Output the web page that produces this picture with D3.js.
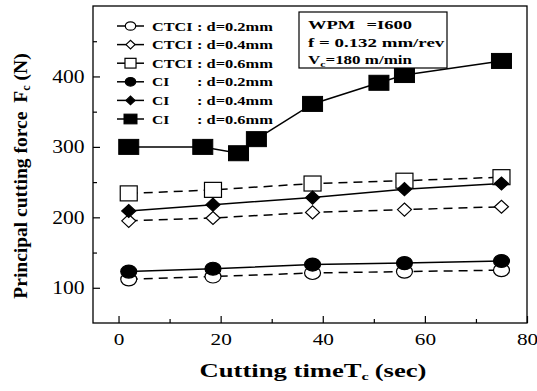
<!DOCTYPE html>
<html>
<head>
<meta charset="utf-8">
<script src="https://cdn.jsdelivr.net/npm/d3@7"></script>
<style>
  body { margin: 0; background: #fff; }
  text { font-family: "Liberation Serif", "Times New Roman", serif; fill: #000; }
</style>
</head>
<body>
<div class="container"></div>
<script>
// chart values
const timeCI06 = [2, 16.5, 23.5, 27, 38, 51, 56, 75];
const forceCI06 = [300, 300, 291, 311, 361, 391, 402, 422];
const timeShort = [2, 18.5, 38, 56, 75];
const forceCTCI02 = [112, 116, 121, 123, 125];
const forceCTCI04 = [195, 199, 207, 211, 215];
const forceCTCI06 = [234, 239, 248, 252, 257];
const forceCI02 = [123, 127, 133, 135, 138];
const forceCI04 = [209, 218, 228, 240, 248];
const legendNames = ["CTCI", "CTCI", "CTCI", "CI", "CI", "CI"];
const legendDepths = [": d=0.2mm", ": d=0.4mm", ": d=0.6mm", ": d=0.2mm", ": d=0.4mm", ": d=0.6mm"];
const xTicks = [0, 20, 40, 60, 80];
const xMinor = [10, 30, 50, 70];
const yTicks = [100, 200, 300, 400];
const yMinor = [150, 250, 350, 450];

const width = 537;
const height = 391;
const margin = { top: 6, bottom: 68, left: 93, right: 10 };
const serif = '"Liberation Serif", "Times New Roman", serif';

const svg = d3.select(".container")
  .append("svg")
  .attr("width", width)
  .attr("height", height);

const xScale = d3.scaleLinear()
  .domain([-5, 80])
  .range([margin.left, width - margin.right]);

const yScale = d3.scaleLinear()
  .domain([50, 500])
  .range([height - margin.bottom, margin.top]);

// series: which marker, filled or not, dashed or not
const series = [
  { x: timeShort, y: forceCTCI02, shape: "circle", fill: "#fff", dash: true },
  { x: timeShort, y: forceCTCI04, shape: "diamond", fill: "#fff", dash: true },
  { x: timeShort, y: forceCTCI06, shape: "square", fill: "#fff", dash: true },
  { x: timeShort, y: forceCI02, shape: "circle", fill: "#000", dash: false },
  { x: timeShort, y: forceCI04, shape: "diamond", fill: "#000", dash: false },
  { x: timeCI06, y: forceCI06, shape: "bigsquare", fill: "#000", dash: false }
];

// draw a marker centred on cx, cy; k scales it down for the legend
function marker(g, shape, cx, cy, fill, k) {
  if (shape === "circle") {
    g.append("ellipse")
      .attr("cx", cx).attr("cy", cy)
      .attr("rx", 8 * k).attr("ry", 6.5 * k)
      .attr("fill", fill).attr("stroke", "#000").attr("stroke-width", 1.2);
  } else if (shape === "diamond") {
    const w = 7 * k, h = 6.5 * k;
    g.append("path")
      .attr("d", `M${cx - w},${cy} L${cx},${cy - h} L${cx + w},${cy} L${cx},${cy + h} Z`)
      .attr("fill", fill).attr("stroke", "#000").attr("stroke-width", 1.2);
  } else if (shape === "square") {
    const w = 8.5 * k, h = 7.5 * k;
    g.append("rect")
      .attr("x", cx - w).attr("y", cy - h)
      .attr("width", 2 * w).attr("height", 2 * h)
      .attr("fill", fill).attr("stroke", "#000").attr("stroke-width", 1.2);
  } else {
    const w = 10 * k, h = 7.5 * k;
    g.append("rect")
      .attr("x", cx - w).attr("y", cy - h)
      .attr("width", 2 * w).attr("height", 2 * h)
      .attr("fill", fill).attr("stroke", "#000").attr("stroke-width", 1);
  }
}

// stretch a text sideways so it is w wide (the picture is wider than tall)
function stretchTo(g, w) {
  const t = g.select("text");
  const bw = t.node().getBBox().width;
  t.attr("transform", `scale(${w / bw},1)`);
}

// frame
svg.append("rect")
  .attr("x", margin.left)
  .attr("y", margin.top)
  .attr("width", width - margin.left - margin.right)
  .attr("height", height - margin.top - margin.bottom)
  .attr("fill", "none")
  .attr("stroke", "#000")
  .attr("stroke-width", 1.3);

// axes with inward ticks
function xAxis(g) {
  g.call(d3.axisBottom(xScale).tickValues(xTicks).tickSize(-7).tickPadding(10))
    .attr("font-family", serif)
    .call(g => g.select(".domain").remove());
  g.selectAll("text")
    .attr("font-size", 17)
    .attr("transform", "scale(1.25,1)");
}

function yAxis(g) {
  g.call(d3.axisLeft(yScale).tickValues(yTicks).tickSize(-7).tickPadding(7))
    .attr("font-family", serif)
    .call(g => g.select(".domain").remove());
  g.selectAll("text")
    .attr("font-size", 18)
    .attr("transform", "scale(1.2,1)");
}

svg.append("g")
  .attr("transform", `translate(0, ${height - margin.bottom})`)
  .call(xAxis);

svg.append("g")
  .attr("transform", `translate(${margin.left}, 0)`)
  .call(yAxis);

svg.append("g")
  .attr("transform", `translate(0, ${height - margin.bottom})`)
  .call(d3.axisBottom(xScale).tickValues(xMinor).tickSize(-4).tickFormat(""))
  .call(g => g.select(".domain").remove());

svg.append("g")
  .attr("transform", `translate(${margin.left}, 0)`)
  .call(d3.axisLeft(yScale).tickValues(yMinor).tickSize(-4).tickFormat(""))
  .call(g => g.select(".domain").remove());

svg.selectAll(".tick line").attr("stroke-width", 1.2);

// lines
const line = d3.line()
  .x(d => xScale(d[0]))
  .y(d => yScale(d[1]));

series.forEach(s => {
  svg.append("path")
    .datum(s.x.map((t, i) => [t, s.y[i]]))
    .attr("d", line)
    .attr("fill", "none")
    .attr("stroke", "#000")
    .attr("stroke-width", 1.5)
    .attr("stroke-dasharray", s.dash ? "9,6" : null);
});

// markers
series.forEach(s => {
  const g = svg.append("g");
  s.x.forEach((t, i) => marker(g, s.shape, xScale(t), yScale(s.y[i]), s.fill, 1));
});

// legend
const legend = svg.append("g");
series.forEach((s, i) => {
  const ly = 26 + i * 18.6;
  legend.append("line")
    .attr("x1", 117).attr("x2", 144)
    .attr("y1", ly).attr("y2", ly)
    .attr("stroke", "#000").attr("stroke-width", 1.5);
  marker(legend, s.shape, 130.5, ly, s.fill, 0.65);
  const n = legend.append("g").attr("transform", `translate(152, ${ly + 4.5})`);
  n.append("text").attr("font-size", 12).attr("font-weight", "bold").text(legendNames[i]);
  if (legendNames[i] === "CTCI") stretchTo(n, 41);
  else n.select("text").attr("transform", "scale(1.3,1)");
  const d = legend.append("g").attr("transform", `translate(197, ${ly + 4.5})`);
  d.append("text").attr("font-size", 12).attr("font-weight", "bold").text(legendDepths[i]);
  stretchTo(d, 76);
});

// condition box
svg.append("rect")
  .attr("x", 299).attr("y", 12)
  .attr("width", 148).attr("height", 56)
  .attr("fill", "#fff")
  .attr("stroke", "#000")
  .attr("stroke-width", 1.2);

const info1 = svg.append("g").attr("transform", "translate(308, 29)");
const t1 = info1.append("text").attr("font-size", 13).attr("font-weight", "bold");
t1.append("tspan").text("WPM");
t1.append("tspan").attr("dx", 8).text("=I600");
stretchTo(info1, 104);

const info2 = svg.append("g").attr("transform", "translate(308, 47)");
info2.append("text")
  .attr("font-size", 13).attr("font-weight", "bold")
  .text("f = 0.132 mm/rev");
stretchTo(info2, 137);

const info3 = svg.append("g").attr("transform", "translate(308, 64)");
const t3 = info3.append("text").attr("font-size", 13).attr("font-weight", "bold");
t3.append("tspan").text("V");
t3.append("tspan").attr("font-size", 9).attr("dy", 3).text("c");
t3.append("tspan").attr("dy", -3).text("=180 m/min");
stretchTo(info3, 105);

// axis titles
const xt = svg.append("g").attr("transform", `translate(313, 377)`);
const xtt = xt.append("text")
  .attr("text-anchor", "middle")
  .attr("font-size", 18).attr("font-weight", "bold");
xtt.append("tspan").text("Cutting timeT");
xtt.append("tspan").attr("font-size", 11).attr("dy", 3).text("c");
xtt.append("tspan").attr("dy", -3).attr("dx", 4).text("(sec)");
stretchTo(xt, 227);

const yt = svg.append("g").attr("transform", "translate(27, 176) rotate(-90)");
const ytt = yt.append("text")
  .attr("text-anchor", "middle")
  .attr("font-size", 19.5).attr("font-weight", "bold");
ytt.append("tspan").text("Principal cutting force");
ytt.append("tspan").attr("dx", 9).text("F");
ytt.append("tspan").attr("font-size", 12).attr("dy", 3).text("c");
ytt.append("tspan").attr("dy", -3).attr("dx", 5).text("(N)");
</script>
</body>
</html>
